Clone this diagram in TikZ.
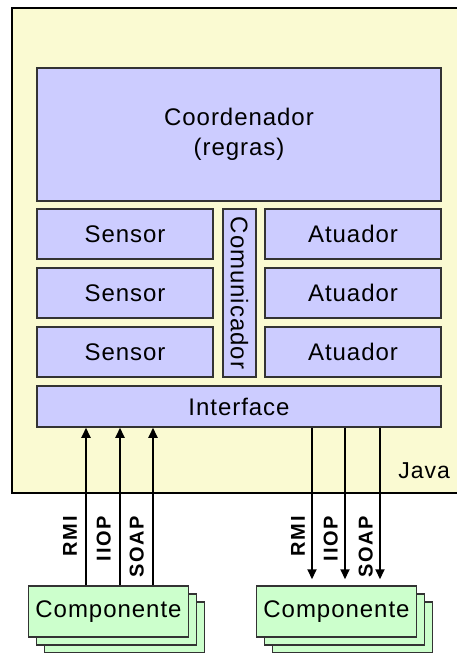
\documentclass[tikz,border=0pt]{standalone}
\usepackage{fontspec}
\setmainfont{Liberation Sans}
\newfontfamily\boxfont[LetterSpace=4]{Liberation Sans}
\newfontfamily\protofont[LetterSpace=8]{Liberation Sans}
\usetikzlibrary{arrows.meta}

\definecolor{javabg}{HTML}{FAFAD2}
\definecolor{blokbg}{HTML}{CCCCFF}
\definecolor{compbg}{HTML}{CCFFCC}
\definecolor{edgegray}{HTML}{333333}

\tikzset{
  blok/.style={draw=edgegray, line width=1.5pt, fill=blokbg, inner sep=0pt,
    font=\boxfont\fontsize{24}{30}\selectfont},
  comp/.style={draw=edgegray, line width=1.5pt, fill=compbg, inner sep=0pt,
    minimum width=160pt, minimum height=51pt,
    font=\boxfont\fontsize{24}{30}\selectfont},
  wire/.style={line width=2pt, -{Triangle[width=9pt,length=10pt]}},
  proto/.style={rotate=90, inner sep=0pt, font=\protofont\fontsize{20}{24}\selectfont\bfseries},
}

\begin{document}
\begin{tikzpicture}[x=1pt,y=-1pt]
  \path[clip] (0,0) rectangle (457,653);
  \draw[line width=1.5pt, draw=black, fill=javabg] (12,8) rectangle (470,493);
  \node[anchor=base east, inner sep=0pt, font=\boxfont\fontsize{23}{28}\selectfont] (java) at (450,478) {Java};

  \node[blok, minimum width=404pt, minimum height=133pt, align=center] (coord) at (239,134.5) {Coordenador\\(regras)};
  \foreach \y [count=\i] in {234,293,352} {
    \node[blok, minimum width=176pt, minimum height=50pt] (sensor\i) at (125,\y) {Sensor};
    \node[blok, minimum width=176pt, minimum height=50pt] (atuador\i) at (353,\y) {Atuador};
  }
  \node[blok, rotate=-90, minimum width=168pt, minimum height=33pt] (comun) at (239.5,293) {Comunicador};
  \node[blok, minimum width=404pt, minimum height=41pt] (iface) at (239,406.5) {Interface};

  % pilhas de componentes
  \foreach \x/\n in {108.5/L,336.5/R} {
    \node[comp] (comp\n3) at (\x+16,627.5) {};
    \node[comp] (comp\n2) at (\x+8,619.5) {};
    \node[comp] (comp\n) at (\x,611.5) {Componente};
  }

  \foreach \x/\lbl in {86/RMI,120/IIOP,153/SOAP} {
    \draw[wire] (\x,0 |- compL.north) -- (\x,0 |- iface.south);
    \node[proto, anchor=south east] at (\x-9,516) {\lbl};
  }
  \foreach \x/\lbl in {312/RMI,345/IIOP,380/SOAP} {
    \draw[wire, shorten >=6pt] (\x,0 |- iface.south) -- (\x,0 |- compR.north);
    \node[proto, anchor=south east] at (\x-7,516) {\lbl};
  }
\end{tikzpicture}
\end{document}
